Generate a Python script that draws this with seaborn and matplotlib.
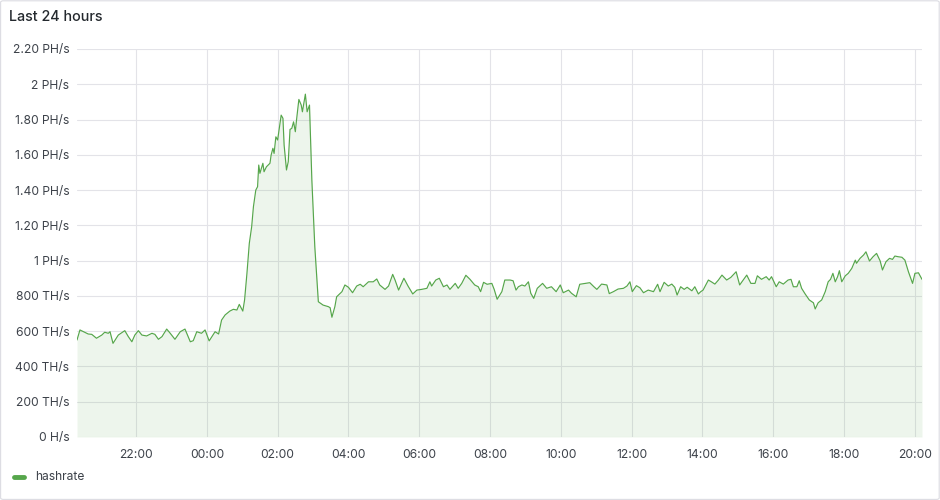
import pandas as pd
import matplotlib
matplotlib.use('Agg')
import matplotlib.pyplot as plt
import matplotlib.dates as mdates
from matplotlib.patches import FancyBboxPatch
from matplotlib.lines import Line2D
import seaborn as sns

# readings (clock time, TH/s) over the last 24 hours
times = [
	"20:20", "20:25", "20:31", "20:39", "20:45", "20:53", "21:02", "21:07", "21:13", "21:16",
	"21:21", "21:30", "21:41", "21:47", "21:53", "21:58", "22:04", "22:10", "22:18", "22:27",
	"22:32", "22:38", "22:44", "22:52", "22:58", "23:06", "23:15", "23:23", "23:32", "23:37",
	"23:43", "23:51", "23:57", "00:04", "00:14", "00:20", "00:25", "00:31", "00:39", "00:45",
	"00:51", "00:55", "01:01", "01:04", "01:08", "01:12", "01:16", "01:19", "01:23", "01:26",
	"01:28", "01:30", "01:35", "01:37", "01:41", "01:47", "01:49", "01:52", "01:54", "01:57",
	"02:00", "02:06", "02:09", "02:11", "02:15", "02:18", "02:21", "02:24", "02:27", "02:30",
	"02:32", "02:36", "02:40", "02:42", "02:47", "02:50", "02:54", "02:58", "03:03", "03:09",
	"03:17", "03:26", "03:29", "03:32", "03:37", "03:40", "03:49", "03:54", "04:00", "04:07",
	"04:14", "04:20", "04:25", "04:34", "04:42", "04:48", "04:53", "05:02", "05:08", "05:15",
	"05:19", "05:25", "05:34", "05:41", "05:49", "05:56", "06:04", "06:13", "06:18", "06:21",
	"06:28", "06:34", "06:41", "06:47", "06:52", "07:01", "07:06", "07:12", "07:19", "07:26",
	"07:34", "07:40", "07:44", "07:49", "07:55", "08:03", "08:07", "08:12", "08:20", "08:25",
	"08:34", "08:39", "08:44", "08:48", "08:54", "08:59", "09:05", "09:09", "09:14", "09:20",
	"09:29", "09:36", "09:44", "09:52", "09:59", "10:04", "10:13", "10:18", "10:26", "10:32",
	"10:41", "10:49", "10:56", "11:01", "11:09", "11:18", "11:22", "11:29", "11:37", "11:46",
	"11:52", "11:57", "12:01", "12:08", "12:14", "12:20", "12:28", "12:37", "12:44", "12:48",
	"12:55", "13:02", "13:08", "13:13", "13:17", "13:23", "13:29", "13:34", "13:42", "13:47",
	"13:53", "13:57", "14:01", "14:10", "14:15", "14:21", "14:27", "14:33", "14:41", "14:48",
	"14:57", "15:03", "15:09", "15:15", "15:22", "15:29", "15:33", "15:40", "15:48", "15:53",
	"15:57", "16:05", "16:10", "16:17", "16:25", "16:30", "16:34", "16:40", "16:44", "16:48",
	"16:54", "17:01", "17:08", "17:11", "17:16", "17:22", "17:28", "17:33", "17:37", "17:41",
	"17:45", "17:49", "17:52", "17:56", "18:02", "18:07", "18:13", "18:19", "18:21", "18:27",
	"18:33", "18:37", "18:43", "18:49", "18:55", "19:01", "19:05", "19:11", "19:17", "19:22",
	"19:26", "19:32", "19:38", "19:43", "19:49", "19:56", "20:00", "20:06", "20:12",
]
hashrate = [
	550, 607, 597, 584, 582, 560, 578, 594, 588, 597,
	531, 578, 603, 569, 540, 578, 603, 578, 573, 588,
	582, 554, 569, 612, 588, 554, 597, 612, 540, 546,
	597, 588, 607, 545, 597, 584, 663, 692, 714, 724,
	720, 752, 714, 777, 928, 1098, 1192, 1306, 1400, 1419,
	1542, 1495, 1552, 1504, 1532, 1552, 1599, 1637, 1608, 1702,
	1684, 1825, 1807, 1655, 1514, 1561, 1744, 1750, 1787, 1731,
	1797, 1914, 1882, 1844, 1944, 1844, 1882, 1457, 1079, 767,
	748, 739, 733, 679, 739, 795, 824, 862, 849, 818,
	856, 866, 852, 880, 880, 896, 862, 837, 856, 922,
	890, 833, 900, 856, 811, 833, 837, 843, 880, 856,
	890, 900, 852, 862, 837, 871, 843, 871, 917, 894,
	862, 852, 824, 877, 866, 871, 837, 781, 824, 890,
	890, 886, 833, 852, 862, 856, 880, 815, 786, 843,
	871, 843, 852, 824, 862, 818, 833, 815, 795, 866,
	871, 875, 852, 837, 867, 862, 813, 824, 839, 843,
	856, 880, 824, 858, 846, 818, 833, 824, 866, 824,
	877, 856, 867, 849, 805, 852, 837, 849, 829, 852,
	811, 824, 833, 890, 880, 867, 890, 918, 890, 905,
	937, 862, 890, 918, 871, 871, 914, 894, 909, 890,
	909, 852, 880, 867, 890, 894, 852, 852, 886, 843,
	811, 777, 761, 726, 761, 777, 824, 880, 894, 928,
	880, 909, 943, 880, 914, 928, 956, 1003, 985, 1013,
	1032, 1050, 998, 1022, 1041, 999, 947, 994, 1013, 1007,
	1026, 1022, 1019, 1003, 937, 871, 928, 931, 894,
]
y_ticks = [0, 200, 400, 600, 800, 1000, 1200, 1400, 1600, 1800, 2000, 2200]
y_labels = ["0 H/s", "200 TH/s", "400 TH/s", "600 TH/s", "800 TH/s", "1 PH/s",
	"1.20 PH/s", "1.40 PH/s", "1.60 PH/s", "1.80 PH/s", "2 PH/s", "2.20 PH/s"]

# clock strings -> timestamps, rolling over at midnight
stamps = []
day = pd.Timestamp('2024-01-01')
prev = None
for t in times:
	ts = pd.Timestamp(f"{day.date()} {t}")
	if prev is not None and ts < prev:
		day += pd.Timedelta(days=1)
		ts = pd.Timestamp(f"{day.date()} {t}")
	stamps.append(ts)
	prev = ts
df = pd.DataFrame({'time': stamps, 'hashrate': hashrate})

green = '#56a64b'
text_col = '#3d424a'

sns.set_theme(style='white')
plt.rcParams['font.family'] = ['Inter', 'DejaVu Sans']

fig = plt.figure(figsize=(9.4, 5), dpi=100)
ax = fig.add_axes([77 / 940, 63 / 500, 845 / 940, 388 / 500])

sns.lineplot(data=df, x='time', y='hashrate', ax=ax, color=green, linewidth=0.85)
ax.fill_between(df['time'], df['hashrate'], 0, color=green, alpha=0.1, linewidth=0)

ax.set_xlim(pd.Timestamp('2024-01-01 20:20'), pd.Timestamp('2024-01-02 20:12'))
ax.set_ylim(0, 2200)
ax.set_yticks(y_ticks)
ax.set_yticklabels(y_labels)
ax.xaxis.set_major_locator(mdates.HourLocator(byhour=range(0, 24, 2)))
ax.xaxis.set_major_formatter(mdates.DateFormatter('%H:%M'))
ax.set_xlabel('')
ax.set_ylabel('')
ax.tick_params(axis='both', length=0, labelsize=8.7, colors=text_col)
ax.tick_params(axis='y', pad=5.5)
ax.tick_params(axis='x', pad=8.5)
ax.grid(True, color='#e3e3e8', linewidth=0.8)
for s in ax.spines.values():
	s.set_visible(False)

fig.text(9 / 940, 1 - 17 / 500, 'Last 24 hours', ha='left', va='center',
	fontsize=10.3, fontweight='medium', color='#24292e')

fig.add_artist(Line2D([14 / 940, 24 / 940], [1 - 477 / 500] * 2, color=green,
	linewidth=3.5, solid_capstyle='round'))
fig.text(35 / 940, 1 - 477 / 500, 'hashrate', ha='left', va='center',
	fontsize=8.7, color=text_col)

fig.add_artist(FancyBboxPatch((0.6 / 940, 0.6 / 500), 938.6 / 940, 498.6 / 500,
	boxstyle='round,pad=0,rounding_size=0.003', transform=fig.transFigure,
	facecolor='none', edgecolor='#dcdce2', linewidth=0.8))

fig.savefig('out.png', dpi=100, facecolor='white')
